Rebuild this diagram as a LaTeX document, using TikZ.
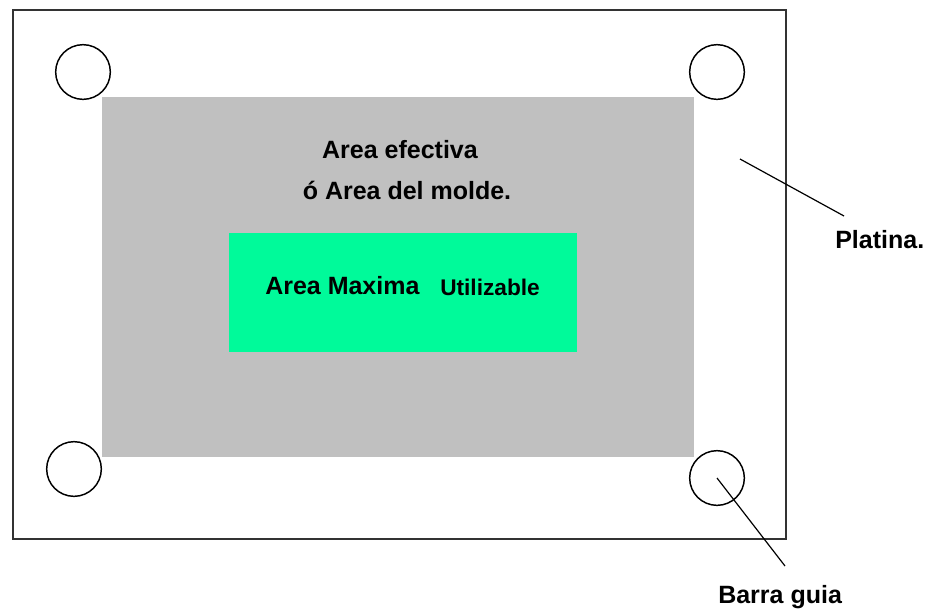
\documentclass[tikz,border=0pt]{standalone}
\usepackage{fontspec}
\setmainfont{Liberation Sans}
\definecolor{moldgray}{HTML}{C0C0C0}
\definecolor{usegreen}{HTML}{00FA9A}
\definecolor{edgedark}{HTML}{333333}
\begin{document}
\begin{tikzpicture}[x=0.75pt,y=-0.75pt,
  platebox/.style={draw=edgedark,line width=1.5pt,fill=white},
  guide/.style={draw=black,line width=1.1pt,fill=white,circle,minimum size=41pt,inner sep=0pt},
  lbl/.style={font=\fontsize{18.75}{22}\selectfont\bfseries,text=black,inner sep=0pt},
  small/.style={font=\fontsize{17}{20}\selectfont\bfseries,text=black,inner sep=0pt},
  leader/.style={draw=black,line width=0.9pt}]
\useasboundingbox (0,0) rectangle (928,612);
\fill[white] (0,0) rectangle (928,612);
\draw[platebox] (13,10) rectangle (786,539);
\fill[moldgray] (102,97) rectangle (694,457);
\fill[usegreen] (229,233) rectangle (577,352);
\node[guide] (c1) at (83,72) {};
\node[guide] (c2) at (717,72) {};
\node[guide] (c3) at (74,469) {};
\node[guide] (c4) at (717,478) {};
\node[lbl] (t1) at (400,150) {Area efectiva};
\node[lbl] (t2) at (407,190) {ó Area del molde.};
\node[lbl,anchor=west] (t3) at (265,286) {Area Maxima};
\node[small,anchor=west] (t4) at (440,287) {Utilizable};
\node[lbl,anchor=west] (plat) at (835,240) {Platina.};
\node[lbl,anchor=west] (barra) at (718,597) {Barra guia};
\coordinate (p1) at (740,159);
\coordinate (p2) at (844,216);
\coordinate (b2) at (785,566);
\draw[leader] (p1) -- (p2);
\draw[leader] (c4.center) -- (b2);
\end{tikzpicture}
\end{document}
